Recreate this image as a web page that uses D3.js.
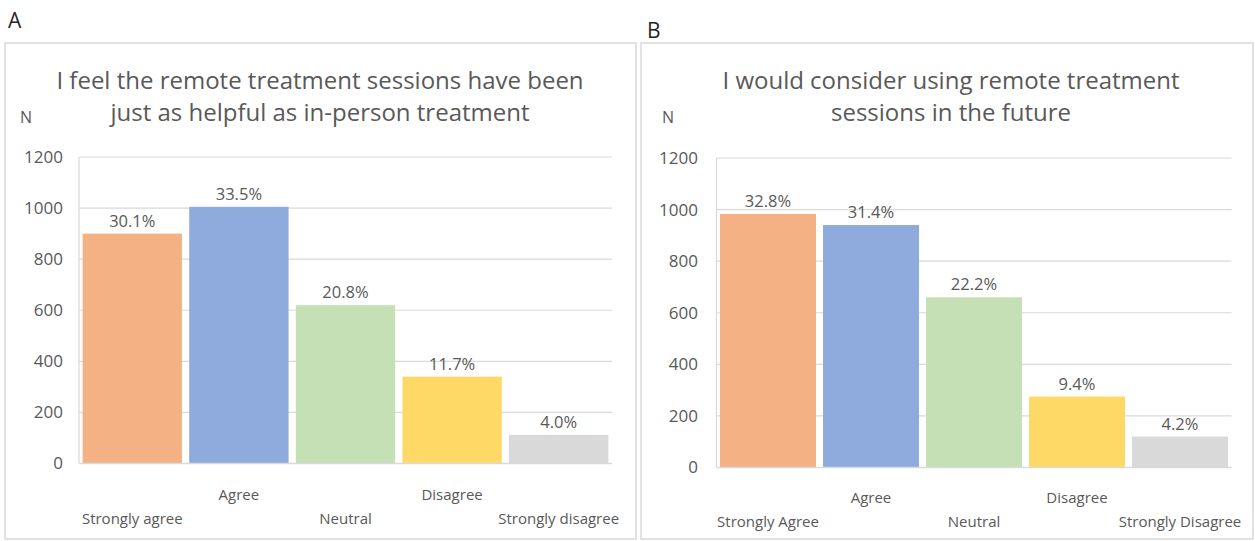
<!DOCTYPE html>
<html>
<head>
<meta charset="utf-8">
<script src="https://cdn.jsdelivr.net/npm/d3@7"></script>
<style>
  body { margin: 0; background: #fff; }
  svg { display: block; }
  text { font-family: "Open Sans", "Noto Sans", sans-serif; }
</style>
</head>
<body>
<svg id="chart" width="1255" height="541"></svg>
<script>
// Survey responses: count of respondents per answer, with share labels
const categoriesA = ["Strongly agree", "Agree", "Neutral", "Disagree", "Strongly disagree"];
const countsA = [900, 1005, 620, 340, 112];
const percentA = ["30.1%", "33.5%", "20.8%", "11.7%", "4.0%"];

const categoriesB = ["Strongly Agree", "Agree", "Neutral", "Disagree", "Strongly Disagree"];
const countsB = [983, 940, 660, 275, 120];
const percentB = ["32.8%", "31.4%", "22.2%", "9.4%", "4.2%"];

const yTicks = [0, 200, 400, 600, 800, 1000, 1200];
const barColors = ["#F4B183", "#8FAADC", "#C5E0B4", "#FFD966", "#D9D9D9"];

const titleA = ["I feel the remote treatment sessions have been", "just as helpful as in-person treatment"];
const titleB = ["I would consider using remote treatment", "sessions in the future"];

const svg = d3.select("#chart");
const textColor = "#595959";
const gridColor = "#D9D9D9";

const panels = [
  {
    letter: "A", letterX: 8, letterY: 28,
    frame: { x0: 5, x1: 636, y0: 43, y1: 539 },
    plot: { left: 79, right: 612, top: 157, bottom: 463.5 },
    titleX: 320, nX: 20, tickRight: 63,
    labelRows: [500, 524],
    categories: categoriesA, counts: countsA, percents: percentA, title: titleA
  },
  {
    letter: "B", letterX: 647, letterY: 38,
    frame: { x0: 641, x1: 1253, y0: 43, y1: 539 },
    plot: { left: 716.5, right: 1231.5, top: 158, bottom: 467.5 },
    titleX: 951, nX: 662, tickRight: 698,
    labelRows: [503, 527],
    categories: categoriesB, counts: countsB, percents: percentB, title: titleB
  }
];

panels.forEach(p => {
  const g = svg.append("g");
  const left = p.plot.left, right = p.plot.right;

  // outer chart frame
  g.append("rect")
    .attr("x", p.frame.x0).attr("y", p.frame.y0)
    .attr("width", p.frame.x1 - p.frame.x0)
    .attr("height", p.frame.y1 - p.frame.y0)
    .attr("fill", "none").attr("stroke", gridColor).attr("stroke-width", 1.5);

  // panel letter
  g.append("text")
    .attr("x", p.letterX).attr("y", p.letterY)
    .attr("font-size", 21).attr("fill", "#262626")
    .text(p.letter);

  // two-line title
  g.append("text")
    .attr("text-anchor", "middle")
    .attr("font-size", 24).attr("fill", textColor)
    .selectAll("tspan").data(p.title).join("tspan")
    .attr("x", p.titleX)
    .attr("y", (d, i) => 89 + i * 32)
    .text(d => d);

  // y-axis unit
  g.append("text")
    .attr("x", p.nX).attr("y", 123)
    .attr("font-size", 16).attr("fill", textColor)
    .text("N");

  const x = d3.scaleBand()
    .domain(p.categories)
    .range([left, right])
    .paddingInner(0.068)
    .paddingOuter(0.034);

  const y = d3.scaleLinear()
    .domain([0, 1200])
    .range([p.plot.bottom, p.plot.top]);

  // horizontal gridlines
  g.append("g").selectAll("line")
    .data(yTicks.filter(t => t > 0)).join("line")
    .attr("x1", left).attr("x2", right)
    .attr("y1", d => y(d)).attr("y2", d => y(d))
    .attr("stroke", gridColor).attr("stroke-width", 1.2);

  // left plot edge
  g.append("line")
    .attr("x1", left).attr("x2", left)
    .attr("y1", y(1200)).attr("y2", y(0))
    .attr("stroke", gridColor).attr("stroke-width", 1.2);

  // y tick labels
  const yAxis = d3.axisLeft(y).tickValues(yTicks).tickFormat(d3.format("d"))
    .tickSize(0).tickPadding(0);
  const ya = g.append("g")
    .attr("transform", `translate(${p.tickRight},0)`)
    .call(yAxis);
  ya.select(".domain").remove();
  ya.selectAll("text")
    .attr("font-size", 17)
    .attr("font-family", "\"Open Sans\", sans-serif")
    .attr("fill", textColor);

  // bars
  g.append("g").selectAll("rect")
    .data(p.counts).join("rect")
    .attr("x", (d, i) => x(p.categories[i]))
    .attr("width", x.bandwidth())
    .attr("y", d => y(d))
    .attr("height", d => y(0) - y(d))
    .attr("fill", (d, i) => barColors[i]);

  // baseline
  g.append("line")
    .attr("x1", left).attr("x2", right)
    .attr("y1", y(0)).attr("y2", y(0))
    .attr("stroke", gridColor).attr("stroke-width", 1.5);

  // percentage labels above bars
  g.append("g").selectAll("text")
    .data(p.counts).join("text")
    .attr("x", (d, i) => x(p.categories[i]) + x.bandwidth() / 2)
    .attr("y", d => y(d) - 7)
    .attr("text-anchor", "middle")
    .attr("font-size", 16.5)
    .attr("fill", textColor)
    .text((d, i) => p.percents[i]);

  // staggered category labels
  g.append("g").selectAll("text")
    .data(p.categories).join("text")
    .attr("x", d => x(d) + x.bandwidth() / 2)
    .attr("y", (d, i) => p.labelRows[i % 2 === 0 ? 1 : 0])
    .attr("text-anchor", "middle")
    .attr("font-size", 15)
    .attr("fill", textColor)
    .text(d => d);
});
</script>
</body>
</html>
